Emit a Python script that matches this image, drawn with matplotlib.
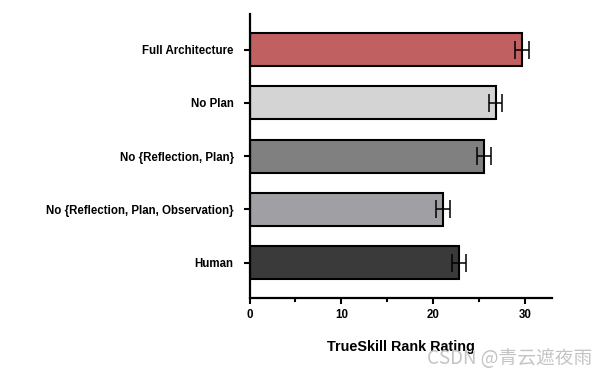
import matplotlib.pyplot as plt
import numpy as np

categories = [
    "Full Architecture",
    "No Plan",
    "No {Reflection, Plan}",
    "No {Reflection, Plan, Observation}",
    "Human",
]
ratings = [29.7, 26.8, 25.5, 21.1, 22.8]
errors = [0.75, 0.7, 0.75, 0.75, 0.75]
bar_colors = ["#C06060", "#D4D4D4", "#808080", "#A0A0A4", "#3A3A3A"]

plt.rcParams["font.family"] = ["Liberation Sans", "DejaVu Sans"]

fig = plt.figure(figsize=(6.09, 3.73), dpi=100)
ax = fig.add_axes([0.4097, 0.202, 0.4963, 0.7603])

y = np.arange(len(categories))
ax.barh(y, ratings, height=0.62, color=bar_colors, edgecolor="black",
        linewidth=1.5, zorder=2)
ax.errorbar(ratings, y, xerr=errors, fmt="none", ecolor="black",
            elinewidth=1.1, capsize=6.5, capthick=1.1, zorder=3)

ax.set_ylim(len(categories) - 1 + 0.66, -0.67)
ax.set_xlim(0, 32.9)
ax.set_yticks(y)
ax.set_yticklabels(categories, fontsize=8.3, fontweight="bold")
ax.set_xticks([0, 10, 20, 30])
ax.set_xticks([5, 15, 25], minor=True)
ax.set_xticklabels(["0", "10", "20", "30"], fontsize=8.3, fontweight="bold")
ax.tick_params(axis="both", which="major", width=1.5, length=4.5, direction="out")
ax.tick_params(axis="x", which="minor", width=1.5, length=3, direction="out")
ax.tick_params(axis="y", pad=7)
ax.tick_params(axis="x", pad=4)
ax.set_xlabel("TrueSkill Rank Rating", fontsize=10.4, fontweight="bold", labelpad=13)

for spine in ("top", "right"):
    ax.spines[spine].set_visible(False)
for spine in ("left", "bottom"):
    ax.spines[spine].set_linewidth(1.6)

fig.text(0.972, 0.040, "CSDN @青云遮夜雨", ha="right", va="center",
         fontsize=13.5, color="#c4c4c4",
         family=["Noto Sans CJK SC", "DejaVu Sans"])

plt.savefig("out.png", dpi=100)
plt.close(fig)
